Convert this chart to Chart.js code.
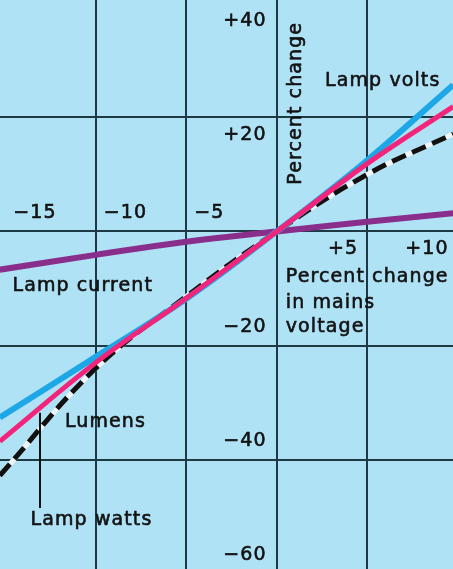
<!DOCTYPE html>
<html>
<head>
  <meta name="viewport" content="width=device-width, initial-scale=1.0">
  <title>Lamp response to mains voltage change</title>
  <script src="https://cdn.jsdelivr.net/npm/chart.js"></script>
  <style>
    body {
      margin: 0;
      padding: 0;
      background: #b0e2f6;
      overflow: hidden;
    }
    .wrap {
      width: 453px;
      height: 569px;
      position: relative;
    }
  </style>
</head>
<body>

  <div class="wrap">
    <canvas id="chartLamp"></canvas>
  </div>

  <script>
    // percent change in mains voltage (x)
    const mainsChange = [-15.3, -10, -5, 0, 5, 9.75];
    // percent change of each quantity (y)
    const lampVolts   = [-32.6, -22.0, -11.8, 0, 12.5, 25.7];
    const lampWatts   = [-36.8, -23.0, -11.7, 0, 11.9, 21.9];
    const lumens      = [-42.8, -24.0, -11.4, 0, 10.0, 17.1];
    const lampCurrent = [-6.7,  -4.1,  -1.8,  0,  1.7,  3.2];

    // tick labels
    const xTickValues = [-15, -10, -5, 5, 10];
    const xTickLabels = ['\u221215', '\u221210', '\u22125', '+5', '+10'];
    const yTickValues = [40, 20, -20, -40, -60];
    const yTickLabels = ['+40', '+20', '\u221220', '\u221240', '\u221260'];

    const BG = '#b0e2f6';
    const GRID = '#1d3a44';
    const FONT = '19px "DejaVu Sans"';

    function pts(ys) {
      return mainsChange.map((x, i) => ({ x: x, y: ys[i] }));
    }

    function lineSet(label, ys, color, width, dash) {
      return {
        label: label,
        data: pts(ys),
        borderColor: color,
        borderWidth: width,
        borderDash: dash || [],
        pointRadius: 0,
        fill: false,
        tension: 0.4,
        borderCapStyle: 'butt'
      };
    }

    // text drawn a little heavier, like the printed labels
    function say(c, txt, x, y) {
      c.strokeText(txt, x, y);
      c.fillText(txt, x, y);
    }

    // background + text labels drawn with the chart's own scales
    const labelPlugin = {
      id: 'labels',
      beforeDraw(chart) {
        const c = chart.ctx;
        c.save();
        c.fillStyle = BG;
        c.fillRect(0, 0, chart.width, chart.height);
        c.restore();
      },
      afterDraw(chart) {
        const c = chart.ctx;
        const xs = chart.scales.x, ys = chart.scales.y;
        const px = v => xs.getPixelForValue(v);
        const py = v => ys.getPixelForValue(v);
        c.save();
        c.font = FONT;
        c.fillStyle = '#121212';
        c.strokeStyle = '#121212';
        c.lineWidth = 0.6;
        c.letterSpacing = '1.1px';
        c.textBaseline = 'middle';

        // x tick labels: negatives right of their line, positives left of it
        xTickValues.forEach((v, i) => {
          if (v < 0) {
            c.textAlign = 'left';
            say(c, xTickLabels[i], px(v) + 8, py(3.2));
          } else {
            c.textAlign = 'right';
            say(c, xTickLabels[i], px(v) - 9, py(-3.1));
          }
        });

        // y tick labels: left of the zero line, on the origin side of grid line
        c.textAlign = 'right';
        yTickValues.forEach((v, i) => {
          const off = v > 0 ? 18 : -18;
          say(c, yTickLabels[i], px(0) - 10, py(v) + off);
        });

        // series names
        c.textAlign = 'left';
        say(c, 'Lamp volts', px(2.67), py(26.4));
        say(c, 'Lamp current', px(-14.6), py(-9.6));
        say(c, 'Lumens', px(-11.7), py(-33.4));
        say(c, 'Lamp watts', px(-13.6), py(-50.6));

        // x axis title
        say(c, 'Percent change', px(0.5), py(-8.0));
        say(c, 'in mains', px(0.5), py(-12.5));
        say(c, 'voltage', px(0.5), py(-16.8));

        // y axis title, vertical
        c.save();
        c.translate(px(1.07), py(8.2));
        c.rotate(-Math.PI / 2);
        say(c, 'Percent change', 0, 0);
        c.restore();

        // leader line for Lamp watts
        c.lineWidth = 2;
        c.beginPath();
        c.moveTo(px(-13.08), py(-31.8));
        c.lineTo(px(-13.08), py(-48.5));
        c.stroke();
        c.restore();
      }
    };

    const ctx = document.getElementById('chartLamp').getContext('2d');
    const chart = new Chart(ctx, {
      type: 'line',
      data: {
        datasets: [
          lineSet('Lamp watts', lampWatts, '#f2257a', 5),
          lineSet('Lamp volts', lampVolts, '#1ea7e6', 6),
          lineSet('Lumens', lumens, '#111111', 5, [15, 7]),
          lineSet('Lumens under', lumens, '#eef6f8', 5),
          lineSet('Lamp current', lampCurrent, '#8a2e8c', 6)
        ]
      },
      options: {
        responsive: true,
        maintainAspectRatio: false,
        animation: false,
        layout: { padding: 0 },
        plugins: {
          legend: { display: false },
          tooltip: { enabled: false }
        },
        scales: {
          x: {
            type: 'linear',
            min: -15.29,
            max: 9.74,
            afterBuildTicks: s => { s.ticks = [-10, -5, 0, 5].map(v => ({ value: v })); },
            ticks: { display: false },
            grid: { color: GRID, lineWidth: 2, drawTicks: false },
            border: { display: false }
          },
          y: {
            type: 'linear',
            min: -59.2,
            max: 40.6,
            afterBuildTicks: s => { s.ticks = [20, 0, -20, -40].map(v => ({ value: v })); },
            ticks: { display: false },
            grid: { color: GRID, lineWidth: 2, drawTicks: false },
            border: { display: false }
          }
        }
      },
      plugins: [labelPlugin]
    });
  </script>
</body>
</html>
